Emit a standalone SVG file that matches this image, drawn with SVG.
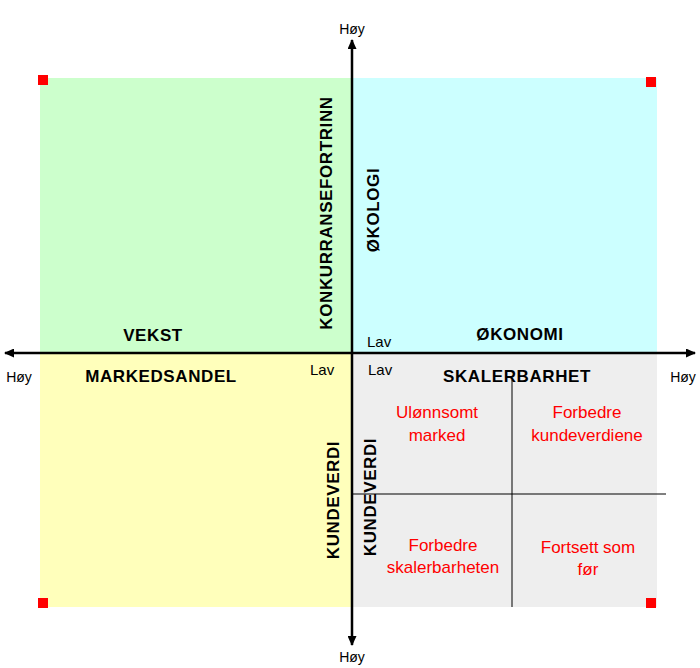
<svg xmlns="http://www.w3.org/2000/svg" width="700" height="668" viewBox="0 0 700 668">
<style>
text{font-family:"Liberation Sans",Arial,sans-serif}
.s{font-size:14px;fill:#000}
.l{font-size:15px}
.b{font-size:17px;font-weight:bold;fill:#000;text-anchor:middle;letter-spacing:0.6px}
.r{font-size:17px;fill:#ff0000;text-anchor:middle}
.m{text-anchor:middle}
.sq{fill:#ff0000}
</style>
<defs><marker id="a" markerWidth="10" markerHeight="9" refX="9" refY="4.5" orient="auto" markerUnits="userSpaceOnUse"><path d="M0,0 L10,4.5 L0,9 Z" fill="#000"/></marker></defs>
<g id="quadrants">
<rect x="40" y="78" width="312" height="275" fill="#ccffcc"/>
<rect x="352" y="78" width="305" height="275" fill="#ccffff"/>
<rect x="40" y="353" width="312" height="254" fill="#ffffbb"/>
<rect x="352" y="353" width="305" height="254" fill="#eeeeee"/>
</g>
<g id="markers">
<rect class="sq" x="38" y="75" width="10" height="10"/>
<rect class="sq" x="646" y="77" width="10" height="10"/>
<rect class="sq" x="38" y="598" width="10" height="10"/>
<rect class="sq" x="646" y="598" width="10" height="10"/>
</g>
<g id="connectors" stroke="#000" fill="none">
<line x1="352" y1="353" x2="352" y2="40" stroke-width="2.5" marker-end="url(#a)"/>
<line x1="352" y1="353" x2="352" y2="645" stroke-width="2.5" marker-end="url(#a)"/>
<line x1="352" y1="353" x2="5" y2="353" stroke-width="2.5" marker-end="url(#a)"/>
<line x1="352" y1="353" x2="695" y2="353" stroke-width="2.5" marker-end="url(#a)"/>
<line x1="512" y1="380" x2="512" y2="607" stroke-width="1"/>
<line x1="352" y1="494" x2="666" y2="494" stroke-width="1"/>
</g>
<g id="labels">
<text class="s m" x="352" y="34">Høy</text>
<text class="s m" x="352" y="662">Høy</text>
<text class="s m" x="19" y="382">Høy</text>
<text class="s m" x="683" y="382">Høy</text>
<text class="s l" x="367" y="347">Lav</text>
<text class="s l" x="310" y="375">Lav</text>
<text class="s l" x="368" y="375">Lav</text>
<text class="b" x="153" y="341">VEKST</text>
<text class="b" x="520" y="340">ØKONOMI</text>
<text class="b" x="161" y="382">MARKEDSANDEL</text>
<text class="b" x="517" y="382">SKALERBARHET</text>
<text class="b" transform="translate(332,213) rotate(-90)">KONKURRANSEFORTRINN</text>
<text class="b" transform="translate(379,210) rotate(-90)">ØKOLOGI</text>
<text class="b" transform="translate(339,500) rotate(-90)">KUNDEVERDI</text>
<text class="b" transform="translate(376,497) rotate(-90)">KUNDEVERDI</text>
</g>
<g id="cells">
<text class="r" x="437" y="418">Ulønnsomt</text>
<text class="r" x="437" y="441">marked</text>
<text class="r" x="587" y="418">Forbedre</text>
<text class="r" x="587" y="441">kundeverdiene</text>
<text class="r" x="443" y="551">Forbedre</text>
<text class="r" x="443" y="573">skalerbarheten</text>
<text class="r" x="588" y="553">Fortsett som</text>
<text class="r" x="588" y="575">før</text>
</g>
</svg>
